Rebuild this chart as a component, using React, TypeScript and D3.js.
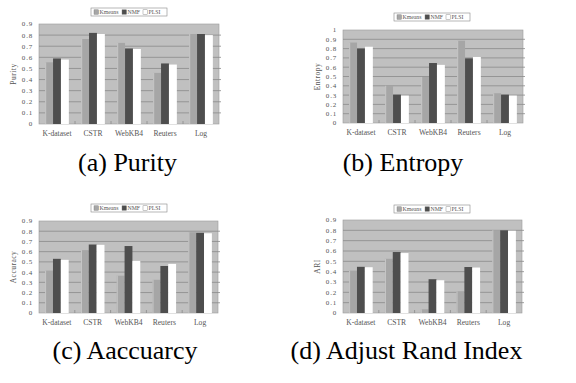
import React from "react";
import * as d3 from "d3";

const categories = ["K-dataset", "CSTR", "WebKB4", "Reuters", "Log"];
const seriesNames = ["Kmeans", "NMF", "PLSI"];

const purityKmeans = [0.555, 0.765, 0.73, 0.46, 0.81];
const purityNMF = [0.59, 0.82, 0.68, 0.545, 0.81];
const purityPLSI = [0.58, 0.81, 0.675, 0.535, 0.80];

const entropyKmeans = [0.865, 0.40, 0.495, 0.885, 0.32];
const entropyNMF = [0.80, 0.305, 0.645, 0.695, 0.305];
const entropyPLSI = [0.82, 0.295, 0.625, 0.71, 0.295];

const accuracyKmeans = [0.415, 0.615, 0.365, 0.325, 0.79];
const accuracyNMF = [0.53, 0.67, 0.655, 0.46, 0.785];
const accuracyPLSI = [0.52, 0.667, 0.51, 0.48, 0.78];

const ariKmeans = [0.41, 0.525, 0.036, 0.21, 0.80];
const ariNMF = [0.447, 0.59, 0.327, 0.445, 0.80];
const ariPLSI = [0.443, 0.58, 0.317, 0.44, 0.796];

const ticks09 = [0, 0.1, 0.2, 0.3, 0.4, 0.5, 0.6, 0.7, 0.8, 0.9];
const ticks10 = [0, 0.1, 0.2, 0.3, 0.4, 0.5, 0.6, 0.7, 0.8, 0.9, 1];

const captions = ["(a) Purity", "(b) Entropy", "(c) Aaccuarcy", "(d) Adjust Rand Index"];
const yTitles = ["Purity", "Entropy", "Accuracy", "ARI"];

const colors = ["#a6a6a6", "#4e4e4e", "#ffffff"];
const smallFont = "'Liberation Serif', 'DejaVu Serif', serif";

type PanelProps = {
  left: number;
  right: number;
  top: number;
  bottom: number;
  max: number;
  ticks: number[];
  values: number[][];
  yTitle: string;
  yTitleX: number;
  legendX: number;
  legendY: number;
  caption: string;
  captionX: number;
  captionY: number;
};

function Panel(p: PanelProps) {
  const y = d3.scaleLinear().domain([0, p.max]).range([p.bottom, p.top]);
  const x0 = d3.scaleBand<string>().domain(categories).range([p.left, p.right]).padding(0);
  const x1 = d3
    .scaleBand<string>()
    .domain(seriesNames)
    .range([0, x0.bandwidth()])
    .paddingInner(0)
    .paddingOuter(0.78);
  const fmt = (v: number) => (v === 0 ? "0" : v === 1 ? "1" : d3.format(".1f")(v));
  const legendW = 76;
  const legendH = 8;
  const entryX = [3, 31, 52];
  return (
    <g>
      <rect x={p.left} y={p.top} width={p.right - p.left} height={p.bottom - p.top} fill="#c0c0c0" stroke="#9a9a9a" strokeWidth={0.6} />
      {p.ticks.map((t) => (
        <g key={t}>
          {t > 0 && t < p.max && (
            <line x1={p.left} x2={p.right + 2} y1={y(t)} y2={y(t)} stroke="#8a8a8a" strokeWidth={0.8} />
          )}
          <text x={p.left - 6} y={y(t)} dy="0.35em" textAnchor="end" fontSize={7} letterSpacing={0.8} fill="#555" fontFamily={smallFont}>
            {fmt(t)}
          </text>
        </g>
      ))}
      {categories.slice(1).map((c) => (
        <line key={c} x1={x0(c)!} x2={x0(c)!} y1={p.bottom} y2={p.bottom - 3} stroke="#8a8a8a" strokeWidth={0.8} />
      ))}
      {categories.map((c, ci) => (
        <g key={c}>
          {seriesNames.map((s, si) => {
            const v = p.values[si][ci];
            const bx = x0(c)! + x1(s)!;
            return (
              <g key={s}>
                <rect x={bx} y={y(v)} width={x1.bandwidth()} height={p.bottom - y(v)} fill={colors[si]} />
                {si === 0 && (
                  <line x1={bx + 0.5} x2={bx + 0.5} y1={y(v)} y2={p.bottom} stroke="#c8c8c8" strokeWidth={1} />
                )}
              </g>
            );
          })}
          <text x={x0(c)! + x0.bandwidth() / 2} y={p.bottom + 12} textAnchor="middle" fontSize={7.6} fill="#555" fontFamily={smallFont}>
            {c}
          </text>
        </g>
      ))}
      <text
        transform={`translate(${p.yTitleX},${(p.top + p.bottom) / 2}) rotate(-90)`}
        textAnchor="middle"
        fontSize={7.5}
        letterSpacing={0.5}
        fill="#555"
        fontFamily={smallFont}
      >
        {p.yTitle}
      </text>
      <g transform={`translate(${p.legendX},${p.legendY})`}>
        <rect x={0} y={0} width={legendW} height={legendH} fill="#fff" stroke="#888" strokeWidth={0.6} />
        {seriesNames.map((s, si) => (
          <g key={s} transform={`translate(${entryX[si]},0)`}>
            <rect x={0} y={1.8} width={4.5} height={4.5} fill={colors[si]} stroke="#777" strokeWidth={0.4} />
            <text x={5.5} y={6.2} fontSize={5.8} fill="#555" fontFamily={smallFont}>
              {s}
            </text>
          </g>
        ))}
      </g>
      <text x={p.captionX} y={p.captionY} textAnchor="middle" fontSize={26} fill="#000" fontFamily="'Liberation Serif', 'Times New Roman', serif">
        {p.caption}
      </text>
    </g>
  );
}

export default function App() {
  return (
    <svg width={576} height={383} style={{ position: "absolute", left: 0, top: 0, background: "#fff" }}>
      <Panel
        left={39} right={219} top={24} bottom={124} max={0.9} ticks={ticks09}
        values={[purityKmeans, purityNMF, purityPLSI]}
        yTitle={yTitles[0]} yTitleX={16}
        legendX={91} legendY={8}
        caption={captions[0]} captionX={127.5} captionY={171}
      />
      <Panel
        left={343} right={523} top={30} bottom={123} max={1} ticks={ticks10}
        values={[entropyKmeans, entropyNMF, entropyPLSI]}
        yTitle={yTitles[1]} yTitleX={320}
        legendX={394} legendY={13}
        caption={captions[1]} captionX={403} captionY={171}
      />
      <Panel
        left={39} right={218} top={221} bottom={313} max={0.9} ticks={ticks09}
        values={[accuracyKmeans, accuracyNMF, accuracyPLSI]}
        yTitle={yTitles[2]} yTitleX={16}
        legendX={91} legendY={204}
        caption={captions[2]} captionX={125} captionY={359}
      />
      <Panel
        left={343} right={522} top={220} bottom={313} max={0.9} ticks={ticks09}
        values={[ariKmeans, ariNMF, ariPLSI]}
        yTitle={yTitles[3]} yTitleX={320}
        legendX={394} legendY={205}
        caption={captions[3]} captionX={406.5} captionY={359}
      />
    </svg>
  );
}
